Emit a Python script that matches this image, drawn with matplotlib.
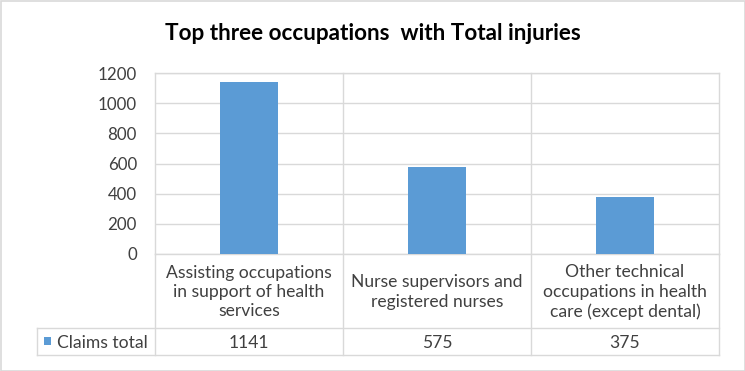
import matplotlib
matplotlib.use("Agg")
import matplotlib.pyplot as plt
from matplotlib.lines import Line2D
from matplotlib.patches import Rectangle
from matplotlib.transforms import blended_transform_factory

categories = ["Assisting occupations\nin support of health\nservices",
              "Nurse supervisors and\nregistered nurses",
              "Other technical\noccupations in health\ncare (except dental)"]
values = [1141, 575, 375]
series_name = "Claims total"
title = "Top three occupations  with Total injuries"
yticks = [0, 200, 400, 600, 800, 1000, 1200]

FONT = ["Lato", "DejaVu Sans"]
plt.rcParams['font.family'] = FONT
W, H = 745, 371
fig = plt.figure(figsize=(W/100, H/100), dpi=100)
bar_color = "#5b9bd5"
grid_color = "#d9d9d9"
text_color = "#404040"
FS = 12.6

def fx(px): return px / W
def fy(py): return 1 - py / H

left, right, top, bottom = 155, 719, 73, 254
ax = fig.add_axes([fx(left), fy(bottom), fx(right - left), (bottom - top) / H])
x = list(range(len(categories)))
ax.bar(x, values, width=0.31, color=bar_color, zorder=3)
ax.set_xlim(-0.5, len(categories) - 0.5)
ax.set_ylim(0, 1200)
ax.set_yticks(yticks)
ax.set_yticklabels([str(t) for t in yticks], fontsize=12.2, color=text_color)
ax.tick_params(axis='y', length=0, pad=13)
ax.set_xticks([])
ax.yaxis.grid(True, color=grid_color, linewidth=1, zorder=0)
for s in ax.spines.values():
    s.set_color(grid_color)
    s.set_linewidth(1)

# Title
fig.text(0.5, fy(33), title, ha='center', va='center', fontsize=16.2, fontweight='bold', color='black')

# Outer border
fig.add_artist(Rectangle((0.5/W, 0.5/H), 1 - 1/W, 1 - 1/H, transform=fig.transFigure,
                         fill=False, edgecolor=grid_color, linewidth=1.2))

# Data table
tr = blended_transform_factory(ax.transData, fig.transFigure)
row1_bot, row2_bot = 328, 355
table_left = 37
lkw = dict(color=grid_color, linewidth=1)
for b in [i + 0.5 for i in range(len(categories) - 1)]:
    fig.add_artist(Line2D([b, b], [fy(top), fy(row2_bot)], transform=tr, **lkw))
for px in [left, right]:
    fig.add_artist(Line2D([fx(px), fx(px)], [fy(bottom), fy(row2_bot)], transform=fig.transFigure, **lkw))
fig.add_artist(Line2D([fx(table_left), fx(table_left)], [fy(row1_bot), fy(row2_bot)], transform=fig.transFigure, **lkw))
for py in [row1_bot, row2_bot]:
    fig.add_artist(Line2D([fx(table_left), fx(right)], [fy(py), fy(py)], transform=fig.transFigure, **lkw))

for i, (c, v) in enumerate(zip(categories, values)):
    fig.text(i, fy((bottom + row1_bot) / 2 + 1), c, transform=tr, ha='center', va='center',
             fontsize=FS, color=text_color, linespacing=1.25)
    fig.text(i, fy((row1_bot + row2_bot) / 2 + 1), str(v), transform=tr, ha='center', va='center',
             fontsize=FS, color=text_color)

fig.add_artist(Rectangle((fx(44), fy(345)), 7/W, 8/H, transform=fig.transFigure,
                         facecolor=bar_color, edgecolor='none'))
fig.text(fx(57), fy((row1_bot + row2_bot) / 2 + 1), series_name, ha='left', va='center',
         fontsize=FS, color=text_color)

fig.savefig("out.png", dpi=100)
